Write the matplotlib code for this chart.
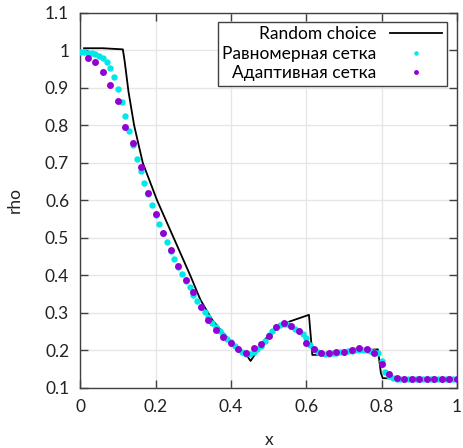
import numpy as np
import matplotlib
matplotlib.use("Agg")
import matplotlib.pyplot as plt
from matplotlib.ticker import FuncFormatter

plt.rcParams['font.family'] = ['Lato', 'DejaVu Sans']

# Random choice (reference solution)
rc_x = [0.01, 0.06, 0.113, 0.118, 0.128, 0.143, 0.166, 0.204, 0.248, 0.292,
        0.319, 0.35, 0.38, 0.41, 0.44, 0.452, 0.4925, 0.52, 0.555, 0.607,
        0.616, 0.66, 0.70, 0.74, 0.79, 0.798, 0.803, 1.0]
rc_y = [1.006, 1.006, 1.003, 0.97, 0.89, 0.80, 0.70, 0.60, 0.50, 0.40,
        0.335, 0.282, 0.246, 0.213, 0.19, 0.172, 0.232, 0.258, 0.277, 0.295,
        0.188, 0.19, 0.195, 0.20, 0.203, 0.14, 0.126, 0.125]

# uniform grid, 0.01 step
uni_x = np.arange(101) * 0.01
uni_y = [0.995, 0.995, 0.994, 0.992, 0.990, 0.986, 0.980, 0.970, 0.953, 0.930,
         0.898, 0.863, 0.825, 0.785, 0.748, 0.711, 0.678, 0.647, 0.617, 0.589,
         0.562, 0.536, 0.512, 0.488, 0.465, 0.443, 0.422, 0.403, 0.385, 0.368,
         0.348, 0.331, 0.317, 0.303, 0.288, 0.274, 0.263, 0.252, 0.240, 0.231,
         0.222, 0.212, 0.203, 0.195, 0.191, 0.190, 0.196, 0.204, 0.213, 0.225,
         0.240, 0.252, 0.262, 0.268, 0.271, 0.270, 0.265, 0.258, 0.252, 0.245,
         0.232, 0.215, 0.203, 0.195, 0.192, 0.191, 0.191, 0.192, 0.193, 0.195,
         0.196, 0.198, 0.199, 0.200, 0.201, 0.201, 0.200, 0.199, 0.197, 0.192,
         0.172, 0.142, 0.131, 0.127, 0.125, 0.125, 0.125, 0.125, 0.125, 0.125,
         0.125, 0.125, 0.125, 0.125, 0.125, 0.125, 0.125, 0.125, 0.125, 0.125,
         0.125]

# adaptive grid, 0.02 step
ada_x = np.arange(1, 51) * 0.02
ada_y = [0.979, 0.969, 0.943, 0.908, 0.866, 0.797, 0.753, 0.689, 0.620, 0.563,
         0.514, 0.468, 0.425, 0.388, 0.355, 0.316, 0.281, 0.255, 0.235, 0.219,
         0.203, 0.194, 0.206, 0.216, 0.239, 0.262, 0.273, 0.264, 0.252, 0.219,
         0.203, 0.194, 0.193, 0.195, 0.197, 0.200, 0.206, 0.205, 0.193, 0.165,
         0.137, 0.126, 0.125, 0.125, 0.125, 0.125, 0.125, 0.125, 0.125, 0.125]

fig = plt.figure(figsize=(4.63, 4.48), dpi=100)
ax = fig.add_axes([0.1734, 0.134, 0.8136, 0.837])

ax.plot(rc_x, rc_y, color='black', lw=1.3, label='Random choice', zorder=3)
ax.plot(uni_x, uni_y, 'o', color='#00e8e8', ms=4.6, mew=0, label='Равномерная сетка', zorder=4)
ax.plot(ada_x, ada_y, 'o', color='#9400d3', ms=5.0, mew=0, label='Адаптивная сетка', zorder=5)

ax.set_xlim(0, 1)
ax.set_ylim(0.1, 1.1)
ax.set_xticks([0, 0.2, 0.4, 0.6, 0.8, 1.0])
ax.set_yticks(np.arange(1, 12) * 0.1)
ax.xaxis.set_major_formatter(FuncFormatter(lambda v, p: '%g' % round(v, 2)))
ax.yaxis.set_major_formatter(FuncFormatter(lambda v, p: '%g' % round(v, 2)))

ax.grid(True, color='#e6e6e6', lw=1.0, zorder=0)
ax.set_axisbelow(True)
ax.tick_params(direction='in', length=6, width=1, color='#404040',
               top=True, right=True, labelsize=12.5, pad=8, labelcolor='#222222')
for s in ax.spines.values():
    s.set_color('#404040')
    s.set_linewidth(1)

ax.set_xlabel('x', fontsize=12.5, labelpad=12, color='#222222')
ax.set_ylabel('rho', fontsize=12.5, labelpad=16, color='#222222')

leg = ax.legend(loc='upper right', bbox_to_anchor=(0.973, 0.976), borderaxespad=0,
                markerfirst=False, fancybox=False, framealpha=1, edgecolor='#404040',
                fontsize=12.5, handlelength=3.0, labelspacing=0.2, borderpad=0.25,
                handletextpad=0.8, markerscale=0.7)
leg.get_frame().set_linewidth(1)

fig.savefig('out.png', dpi=100)
